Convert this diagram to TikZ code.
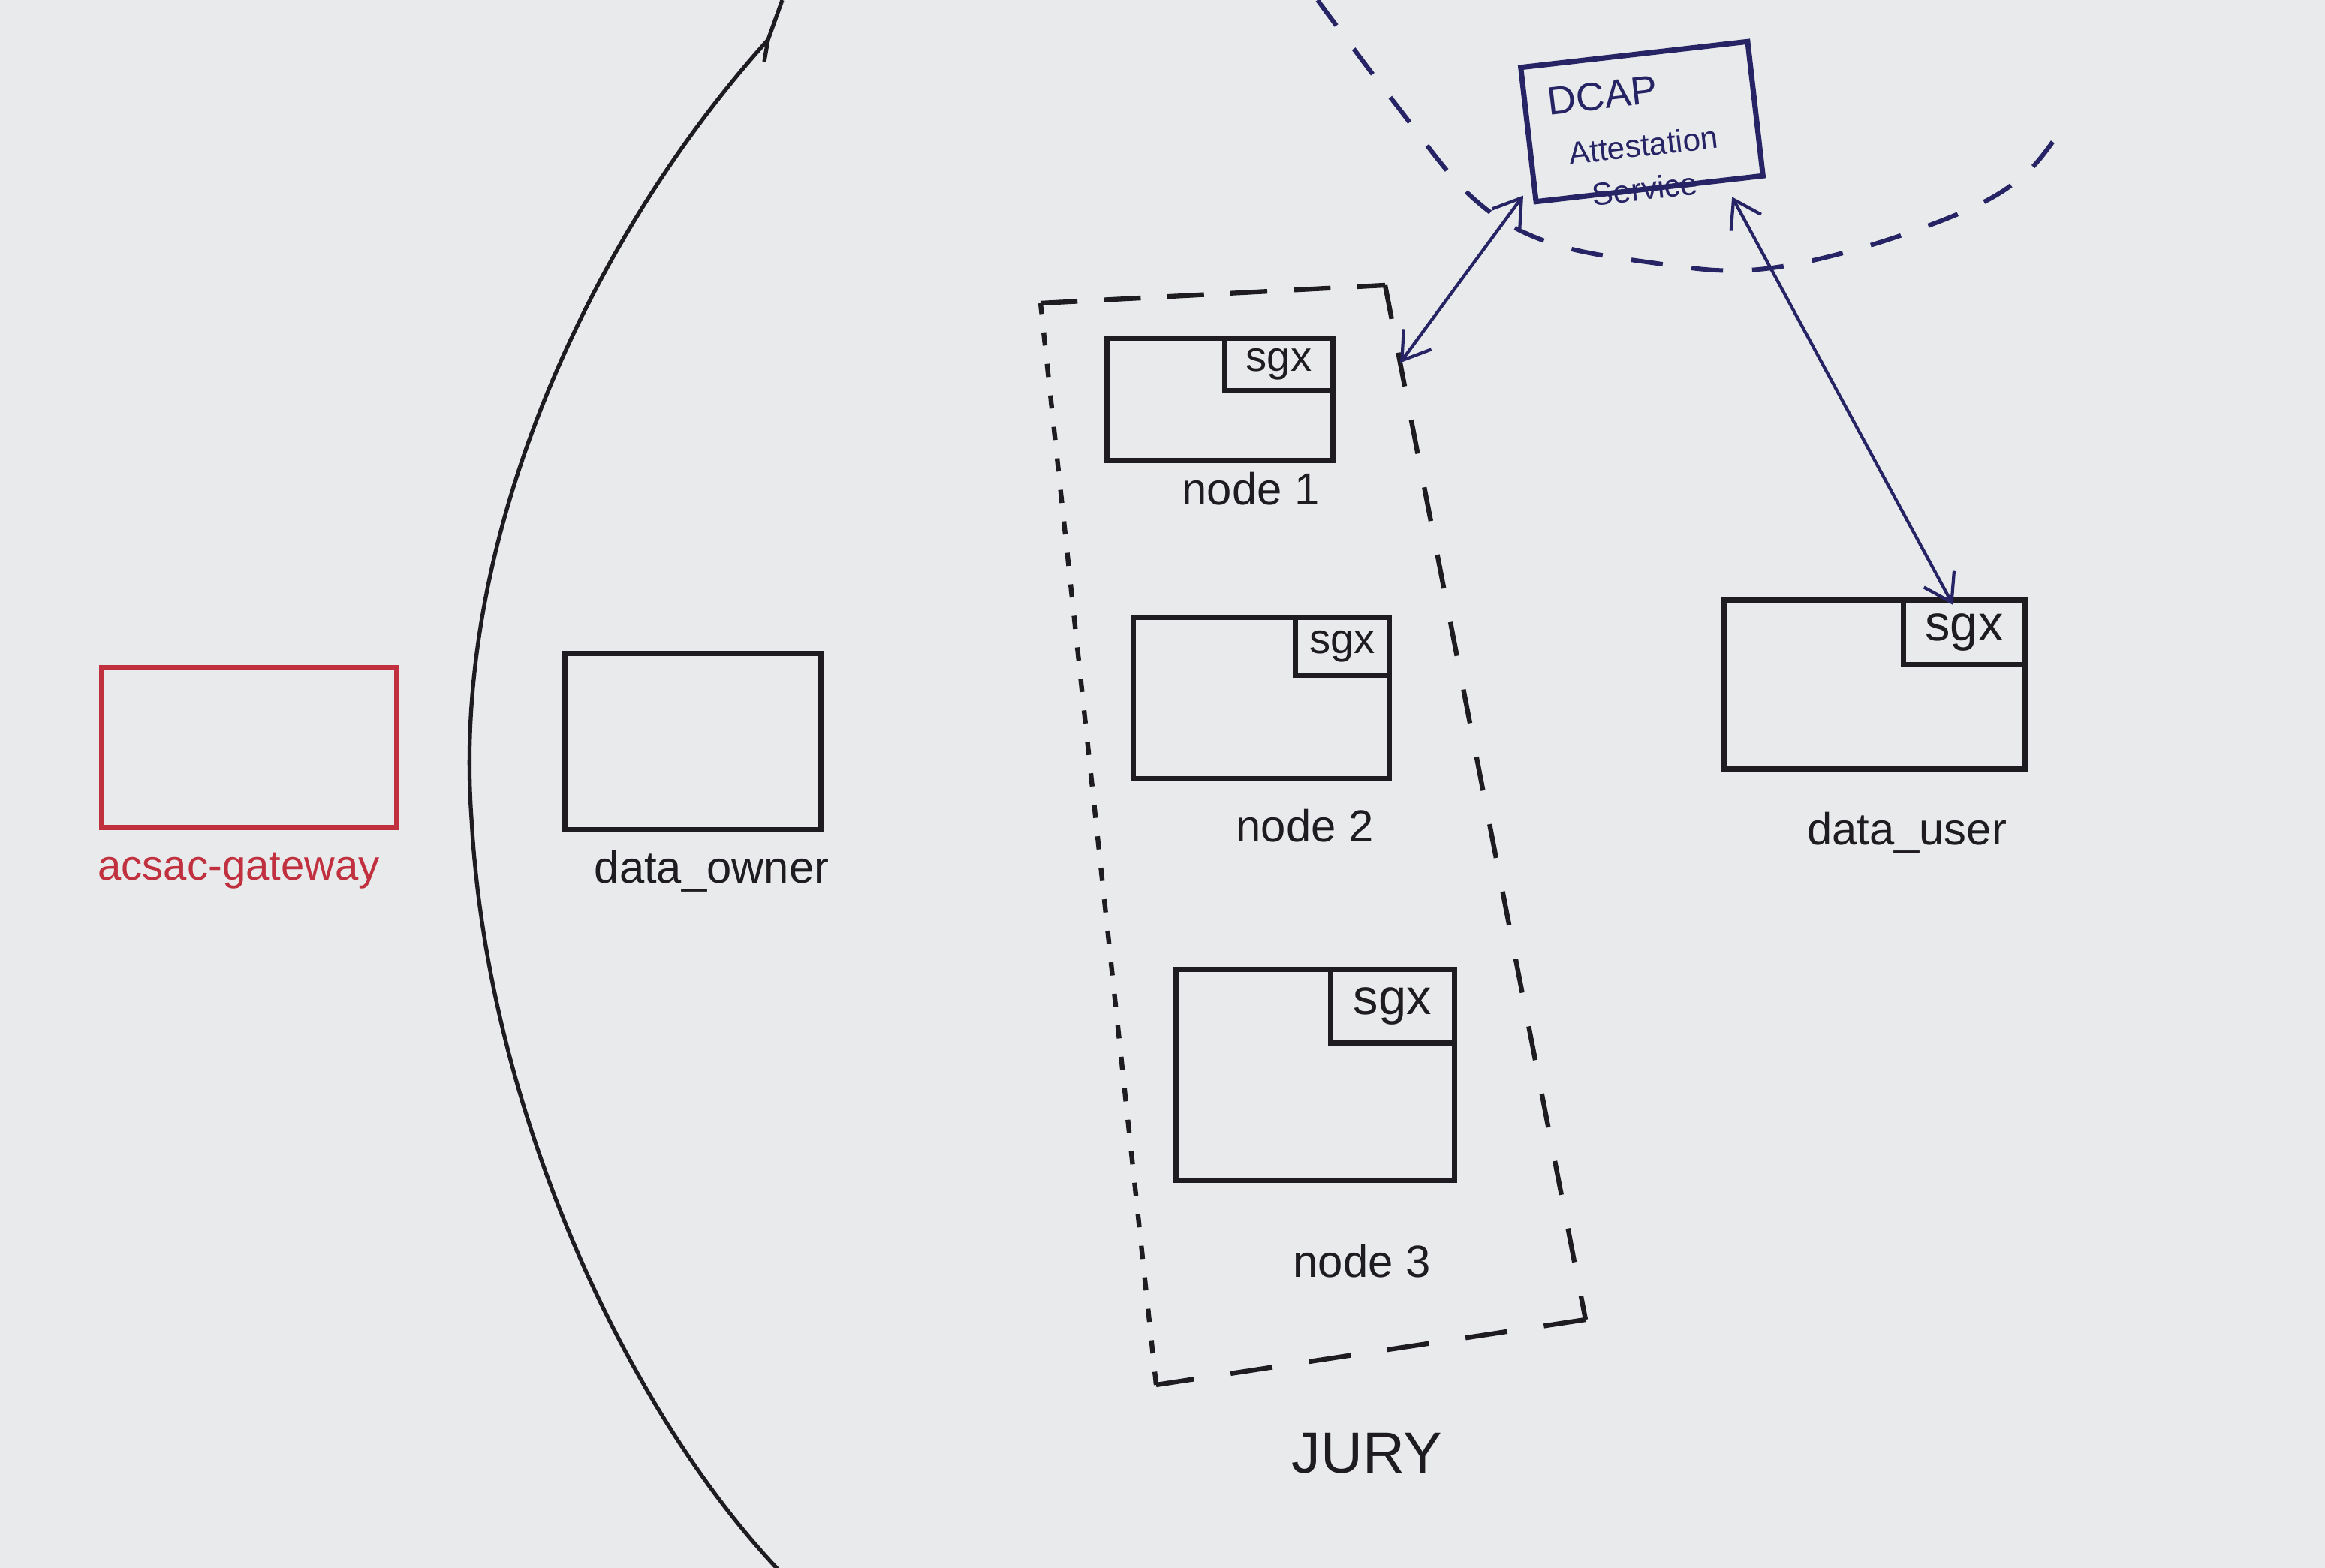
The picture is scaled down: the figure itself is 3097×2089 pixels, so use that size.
\documentclass[tikz,border=0pt]{standalone}
\usepackage{fontspec}
\setmainfont{Liberation Sans}
\usetikzlibrary{arrows.meta,calc}
\definecolor{paper}{RGB}{232,234,235}
\definecolor{ink}{RGB}{30,28,32}
\definecolor{navy}{RGB}{38,36,100}
\definecolor{redink}{RGB}{192,48,62}
\tikzset{
  box/.style={draw=ink, line width=2pt, inner sep=0pt, rectangle},
  sgxbox/.style={draw=ink, line width=1.8pt, inner sep=0pt, rectangle, anchor=north east, text=ink, font=\fontsize{16}{18}\selectfont},
  lbl/.style={text=ink, font=\fontsize{17}{20}\selectfont},
  dcaptxt/.style={text=navy, rotate=6.5, inner sep=0pt, align=left, font=\fontsize{12}{16.5}\selectfont},
  biarrow/.style={navy, line width=1.2pt, {Straight Barb[length=10pt,width=13pt]}-{Straight Barb[length=10pt,width=13pt]}},
  juryline/.style={ink, line width=1.8pt},
}
\begin{document}
\begin{tikzpicture}[x=0.01cm,y=-0.01cm]
\fill[paper] (0,0) rectangle (3097,2089);
\useasboundingbox (0,0) rectangle (3097,2089);

% big solid curve
\draw[ink, line width=1.5pt] (1042,0) -- (1023,53) -- (1018,82);
\draw[ink, line width=1.5pt] (1023,53) .. controls (800,300) and (600,700) .. (628,1090) .. controls (650,1500) and (850,1900) .. (1045,2100);

% dashed top curve
\draw[navy, line width=1.7pt, dash pattern=on 12pt off 11pt] plot[smooth, tension=0.6] coordinates {(1755,0) (1860,140) (1960,262) (2060,322) (2200,350) (2330,360) (2470,333) (2620,280) (2700,230) (2749,167)};

% gateway
\node[box, draw=redink, minimum width=3.92cm, minimum height=2.12cm] (gw) at (332,996) {};
\node[lbl, text=redink, font=\fontsize{16}{19}\selectfont] (gwl) at (318,1160) {acsac-gateway};

% data owner
\node[box, minimum width=3.40cm, minimum height=2.35cm] (do) at (923,988) {};
\node[lbl] (dol) at (948,1161) {data\_owner};

% JURY container
\coordinate (jTL) at (1386,404);
\coordinate (jTR) at (1845,380);
\coordinate (jBR) at (2112,1758);
\coordinate (jBL) at (1540,1845);
\coordinate (jE) at ($(jTR)!0.075!(jBR)$);
\draw[juryline, dash pattern=on 14pt off 10pt] (jTL) -- (jTR);
\draw[juryline, dash pattern=on 13pt off 13pt] (jTR) -- (jBR);
\draw[juryline, dash pattern=on 16pt off 14pt] (jBR) -- (jBL);
\draw[juryline, dash pattern=on 5pt off 7pt] (jBL) -- (jTL);
\node[lbl, font=\fontsize{22}{26}\selectfont] (jury) at (1821,1936) {JURY};

% node 1
\node[box, minimum width=3.0cm, minimum height=1.62cm] (n1) at (1625,532) {};
\node[sgxbox, minimum width=1.44cm, minimum height=0.70cm] (n1s) at (n1.north east) {sgx};
\node[lbl] (n1l) at (1666,651) {node 1};

% node 2
\node[box, minimum width=3.4cm, minimum height=2.15cm] (n2) at (1680,930) {};
\node[sgxbox, minimum width=1.25cm, minimum height=0.78cm] (n2s) at (n2.north east) {sgx};
\node[lbl] (n2l) at (1738,1100) {node 2};

% node 3
\node[box, minimum width=3.7cm, minimum height=2.8cm] (n3) at (1752,1432) {};
\node[sgxbox, minimum width=1.65cm, minimum height=0.98cm, font=\fontsize{19}{22}\selectfont] (n3s) at (n3.north east) {sgx};
\node[lbl] (n3l) at (1814,1680) {node 3};

% data user
\node[box, minimum width=4.0cm, minimum height=2.25cm] (du) at (2497,912) {};
\node[sgxbox, minimum width=1.62cm, minimum height=0.86cm, font=\fontsize{19}{22}\selectfont] (dus) at (du.north east) {sgx};
\node[lbl] (dul) at (2540,1110) {data\_user};

% DCAP
\node[draw=navy, line width=2pt, rotate=6.5, minimum width=3.04cm, minimum height=1.8cm, inner sep=0pt] (dcap) at (2187,162) {};
\node[dcaptxt] (dt) at (2178,186) {{\fontsize{15}{16.5}\selectfont DCAP}\\[3pt]\hspace*{0.2cm}Attestation\\\hspace*{0.45cm}Service};

% arrows
\draw[biarrow] ($(dcap.south west)+(-14,-12)$) -- (jE);
\draw[biarrow] ($(dcap.south east)+(-45,25)$) -- ($(dus.north)+(-15,10)$);
\end{tikzpicture}
\end{document}
